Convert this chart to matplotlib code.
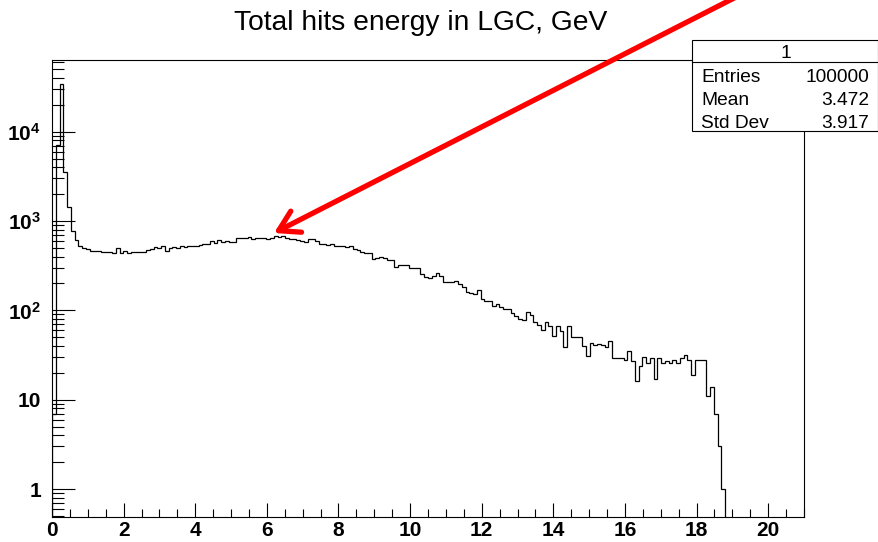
import numpy as np
import matplotlib
matplotlib.use('Agg')
import matplotlib.pyplot as plt
from matplotlib.patches import Rectangle, FancyArrowPatch
from matplotlib.lines import Line2D
from matplotlib.ticker import LogLocator, MultipleLocator, NullFormatter

plt.rcParams['font.family'] = 'Liberation Sans'
plt.rcParams['mathtext.fontset'] = 'custom'
plt.rcParams['mathtext.bf'] = 'Liberation Sans:bold'
plt.rcParams['mathtext.rm'] = 'Liberation Sans'

# histogram: 200 bins over 0..21 GeV, contents
n_bins = 200
x_range = (0, 21)
counts_read = [
    7, 7100, 34000, 3500, 1440, 780, 620, 527, 496, 483, 466, 466, 460, 448, 448, 446,
    436, 493, 436, 466, 436, 451, 448, 455, 450, 470,
    483, 517, 496, 527, 462, 496, 508, 496, 531, 508, 527, 527, 527, 540, 550, 560,
    598, 570, 614, 590, 598, 590, 590, 652, 652, 640, 660, 630, 640, 640, 652, 630,
    640, 687, 670, 687, 640,
    630, 630, 620, 600, 588, 630, 625, 600, 554, 560, 545, 550, 522, 522, 528, 515,
    522, 487, 470, 448, 440, 440, 376, 385, 400, 390, 367, 367, 309, 322, 322, 318,
    296, 296, 296, 254, 235,
    232, 245, 260, 240, 206, 206, 210, 215, 195, 181, 162, 158, 151, 169, 133, 127,
    127, 113, 118, 110, 103, 103, 93, 86, 80, 77, 95, 88, 75, 68, 61, 74, 67, 51, 67,
    59, 39, 67, 50, 50, 50, 40, 31, 43, 41, 42, 41, 39, 45, 29, 29, 29, 28, 35, 27,
    16, 24, 30, 26, 29, 17,
    29, 26, 27, 26, 28, 26, 29, 32, 28, 19, 28, 28, 28, 11, 14, 7, 3, 1,
]
x_ticks = [0, 2, 4, 6, 8, 10, 12, 14, 16, 18, 20]
y_ticks = [1, 10, 100, 1000, 10000]
y_ticklabels = ['1', '10', r'$\mathbf{10^{2}}$', r'$\mathbf{10^{3}}$', r'$\mathbf{10^{4}}$']
title = 'Total hits energy in LGC, GeV'
stats = [('Entries', '100000'), ('Mean', '3.472'), ('Std Dev', '3.917')]

W, H = 879, 542


def fx(px):
    return px / W


def fy(py):
    return 1 - py / H


counts = np.zeros(n_bins)
counts[:len(counts_read)] = counts_read
edges = np.linspace(x_range[0], x_range[1], n_bins + 1)
last = np.nonzero(counts)[0].max() + 1

fig = plt.figure(figsize=(W / 100, H / 100), dpi=100)
ax = fig.add_axes([fx(52), fy(517), fx(804) - fx(52), fy(60) - fy(517)])

ax.stairs(counts[:last], edges[:last + 1], baseline=1e-3, color='black', lw=0.9)

ax.set_yscale('log')
ax.set_xlim(*x_range)
ax.set_ylim(0.486, 63500)

ax.set_xticks(x_ticks)
ax.set_xticklabels([str(t) for t in x_ticks], fontweight='bold', fontsize=15)
ax.xaxis.set_minor_locator(MultipleLocator(0.5))
ax.set_yticks(y_ticks)
ax.set_yticklabels(y_ticklabels, fontweight='bold', fontsize=15)
ax.yaxis.set_minor_locator(LogLocator(base=10, subs=np.arange(2, 10), numticks=20))
ax.yaxis.set_minor_formatter(NullFormatter())

ax.tick_params(which='both', direction='in', top=False, right=False, width=0.8, color='black')
ax.tick_params(axis='y', which='major', length=16.5, pad=8)
ax.tick_params(axis='y', which='minor', length=8.6)
ax.tick_params(axis='x', which='major', length=10, pad=3)
ax.tick_params(axis='x', which='minor', length=5.6)
for sp in ax.spines.values():
    sp.set_linewidth(0.8)

fig.text(fx(421), fy(30.5), title, ha='center', va='baseline', fontsize=20.3)

# stats box
box = Rectangle((fx(691.7), fy(131)), fx(878.3) - fx(691.7), fy(40) - fy(131),
                transform=fig.transFigure, facecolor='white', edgecolor='black',
                lw=0.8, zorder=10)
fig.add_artist(box)
fig.add_artist(Line2D([fx(691.7), fx(878.3)], [fy(61.7), fy(61.7)],
                      transform=fig.transFigure, color='black', lw=0.8, zorder=11))
fig.text(fx(786), fy(58.5), '1', ha='center', va='baseline', fontsize=13.8, zorder=12)
for i, (name, val) in enumerate(stats):
    yb = 81.5 + i * 23.2
    fig.text(fx(701), fy(yb), name, ha='left', va='baseline', fontsize=13.8, zorder=12)
    fig.text(fx(869.5), fy(yb), val, ha='right', va='baseline', fontsize=13.8, zorder=12)

# red arrow pointing at the plateau
arrow = FancyArrowPatch((fx(740), fy(-5)), (fx(274), fy(233)), transform=fig.transFigure,
                        arrowstyle='->,head_length=14.2,head_width=8.5', mutation_scale=1,
                        color='red', lw=3.8, shrinkA=0, shrinkB=0, zorder=9)
fig.add_artist(arrow)

fig.savefig('out.png', dpi=100)
